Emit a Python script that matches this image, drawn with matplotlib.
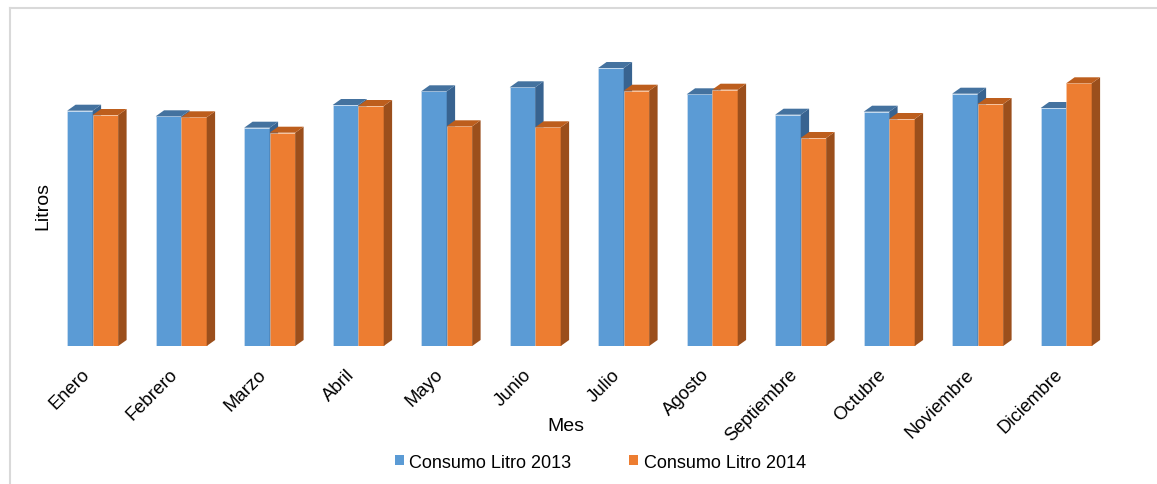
import matplotlib
matplotlib.use("Agg")
import matplotlib.pyplot as plt
from matplotlib.patches import Polygon, Rectangle, Patch
from matplotlib.lines import Line2D
import matplotlib.transforms as mtransforms

plt.rcParams['font.family'] = ['Liberation Sans', 'DejaVu Sans']

meses = ["Enero", "Febrero", "Marzo", "Abril", "Mayo", "Junio", "Julio",
         "Agosto", "Septiembre", "Octubre", "Noviembre", "Diciembre"]
consumo_2013 = [2353, 2297, 2183, 2410, 2547, 2587, 2780, 2517, 2313, 2343, 2523, 2380]
consumo_2014 = [2310, 2287, 2133, 2400, 2197, 2187, 2553, 2563, 2080, 2270, 2420, 2627]
series_labels = ["Consumo Litro 2013", "Consumo Litro 2014"]

# face colours: front, top, side
blue = ("#5B9BD5", "#44729F", "#386390")
orange = ("#ED7D31", "#BD5E1D", "#9B4F1C")

W, H, DPI = 1157, 485, 100
fig = plt.figure(figsize=(W / DPI, H / DPI), dpi=DPI)

# geometry in pixels
base_px = 347          # baseline (from top)
top_px = 40            # axes top (from top)
left_px, right_px = 30, 1140
first_center = 92.7    # pixel x of first group centre
step = 88.5            # pixels between groups
ymax = 3070

ax = fig.add_axes([left_px / W, (H - base_px) / H,
                   (right_px - left_px) / W, (base_px - top_px) / H])
ax.set_xlim((left_px - first_center) / step, (right_px - first_center) / step)
ax.set_ylim(0, ymax)
for s in ax.spines.values():
    s.set_visible(False)
ax.set_yticks([])

px_per_y = (base_px - top_px) / ymax
bar_w = 25.5 / step           # width of each front face, in category units
dx = 8.4 / step               # depth offset x
dy = 6.0 / px_per_y           # depth offset y


def bar3d(x0, h, cols, z):
    front, top, side = cols
    x1 = x0 + bar_w
    ax.add_patch(Rectangle((x0, 0), bar_w, h, facecolor=front,
                           edgecolor="#d6e4f2" if front == blue[0] else "#f6c9a8",
                           linewidth=0.4, zorder=z))
    ax.add_patch(Polygon([(x1, 0), (x1 + dx, dy), (x1 + dx, h + dy), (x1, h)],
                         closed=True, facecolor=side, edgecolor="none", zorder=z))
    ax.add_patch(Polygon([(x0, h), (x0 + dx, h + dy), (x1 + dx, h + dy), (x1, h)],
                         closed=True, facecolor=top, edgecolor="none", zorder=z))


for i in range(len(meses)):
    bar3d(i - bar_w, consumo_2013[i], blue, 2 + 2 * i)
    bar3d(i, consumo_2014[i], orange, 3 + 2 * i)

ax.set_xticks(range(len(meses)))
ax.set_xticklabels(meses, rotation=45, ha="right", va="top", fontsize=13.3)
ax.tick_params(axis="x", length=0, pad=14)
offset = mtransforms.ScaledTranslation(0, 0, fig.dpi_scale_trans)
for lbl in ax.get_xticklabels():
    lbl.set_transform(lbl.get_transform() + offset)

# axis titles
fig.text(565.7 / W, 1 - 426.7 / H, "Mes", fontsize=14, ha="center", va="center")
fig.text(42.5 / W, 1 - 206 / H, "Litros", fontsize=14, rotation=90,
         ha="center", va="center")

# legend
handles = [Patch(facecolor=blue[0], edgecolor="none"),
           Patch(facecolor=orange[0], edgecolor="none")]
fig.legend(handles, series_labels, loc="center", ncol=2,
           bbox_to_anchor=(600.5 / W, 1 - 463 / H), frameon=False,
           fontsize=13, handlelength=0.5, handleheight=0.5,
           handletextpad=0.3, columnspacing=3.2, borderaxespad=0)

# chart area frame
frame_col = "#D9D9D9"
fig.add_artist(Line2D([10 / W, 10 / W], [0, 1 - 9 / H], color=frame_col,
                      linewidth=1.5, transform=fig.transFigure))
fig.add_artist(Line2D([10 / W, 1], [1 - 9 / H, 1 - 9 / H], color=frame_col,
                      linewidth=1.5, transform=fig.transFigure))

fig.savefig("out.png", dpi=DPI)
